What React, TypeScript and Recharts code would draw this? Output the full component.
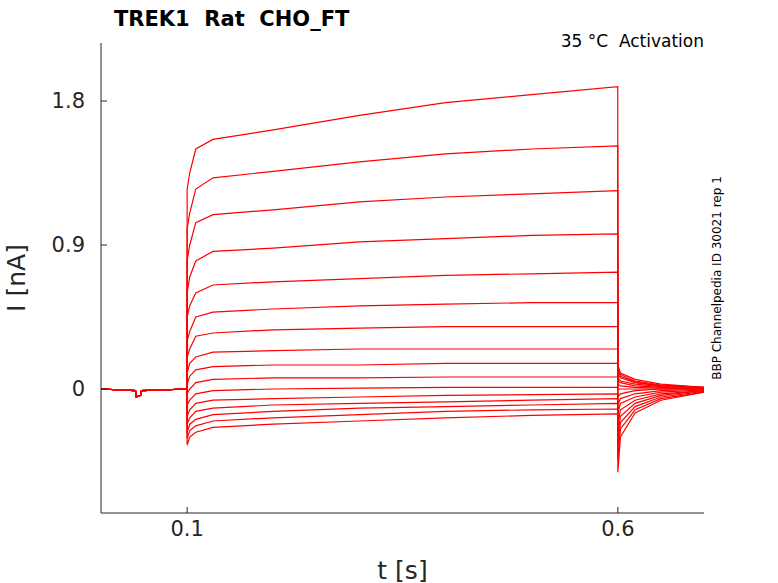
import { LineChart, Line, XAxis, YAxis, Label } from 'recharts';

// baseline before the step, then the step (0.1-0.6 s), then the tails
const baseTimes = [0, 0.04, 0.041, 0.046, 0.047, 0.0999];
const baseValues = [0, -0.01, -0.05, -0.04, -0.01, 0];
const stepTimes = [0.1, 0.103, 0.11, 0.13, 0.2, 0.3, 0.4, 0.5, 0.5999];
const tailTimes = [0.6, 0.603, 0.62, 0.65, 0.7];

const steps: number[][] = [
  [1.25, 1.35, 1.5, 1.56, 1.62, 1.71, 1.79, 1.84, 1.89],
  [1.0, 1.1, 1.25, 1.32, 1.36, 1.42, 1.47, 1.5, 1.52],
  [0.8, 0.9, 1.04, 1.09, 1.12, 1.17, 1.2, 1.22, 1.24],
  [0.6, 0.7, 0.8, 0.86, 0.88, 0.92, 0.94, 0.96, 0.97],
  [0.45, 0.52, 0.6, 0.65, 0.67, 0.69, 0.71, 0.72, 0.73],
  [0.3, 0.36, 0.45, 0.48, 0.5, 0.52, 0.53, 0.54, 0.54],
  [0.2, 0.25, 0.33, 0.35, 0.37, 0.38, 0.39, 0.39, 0.39],
  [0.1, 0.16, 0.2, 0.23, 0.24, 0.25, 0.25, 0.25, 0.25],
  [0.03, 0.08, 0.12, 0.14, 0.15, 0.15, 0.16, 0.16, 0.16],
  [-0.03, 0.0, 0.04, 0.06, 0.07, 0.07, 0.075, 0.075, 0.075],
  [-0.1, -0.07, -0.03, -0.01, 0, 0.005, 0.01, 0.01, 0.01],
  [-0.17, -0.13, -0.09, -0.07, -0.06, -0.05, -0.04, -0.035, -0.03],
  [-0.22, -0.18, -0.14, -0.12, -0.1, -0.09, -0.08, -0.07, -0.06],
  [-0.27, -0.22, -0.19, -0.16, -0.14, -0.12, -0.11, -0.1, -0.09],
  [-0.31, -0.26, -0.23, -0.2, -0.18, -0.16, -0.14, -0.13, -0.125],
  [-0.35, -0.3, -0.27, -0.24, -0.22, -0.2, -0.18, -0.165, -0.155],
];

const tails: number[][] = [
  [0.15, 0.1, 0.06, 0.03, 0.01],
  [0.13, 0.09, 0.05, 0.025, 0.01],
  [0.11, 0.08, 0.045, 0.02, 0.01],
  [0.09, 0.07, 0.04, 0.02, 0.005],
  [0.07, 0.05, 0.03, 0.015, 0.005],
  [0.05, 0.04, 0.02, 0.01, 0],
  [0.03, 0.02, 0.01, 0.005, 0],
  [0.0, 0.0, 0.0, 0.0, 0],
  [-0.05, -0.03, -0.01, 0, 0],
  [-0.1, -0.06, -0.03, -0.01, 0],
  [-0.15, -0.09, -0.05, -0.02, -0.005],
  [-0.22, -0.13, -0.07, -0.03, -0.01],
  [-0.29, -0.17, -0.09, -0.04, -0.01],
  [-0.36, -0.21, -0.11, -0.05, -0.015],
  [-0.44, -0.25, -0.13, -0.06, -0.02],
  [-0.52, -0.3, -0.15, -0.07, -0.02],
];

const data: Record<string, number>[] = [];
baseTimes.forEach((t, i) => {
  const row: Record<string, number> = { t };
  steps.forEach((_, k) => (row['s' + k] = baseValues[i]));
  data.push(row);
});
stepTimes.forEach((t, i) => {
  const row: Record<string, number> = { t };
  steps.forEach((s, k) => (row['s' + k] = s[i]));
  data.push(row);
});
tailTimes.forEach((t, i) => {
  const row: Record<string, number> = { t };
  tails.forEach((s, k) => (row['s' + k] = s[i]));
  data.push(row);
});

const font = 'DejaVu Sans, sans-serif';

export default function App() {
  return (
    <div style={{ position: 'absolute', left: 0, top: 0, width: 778, height: 583, fontFamily: font }}>
      <LineChart width={778} height={583} data={data} margin={{ top: 43, right: 74, bottom: 0, left: 0 }}>
        <XAxis
          dataKey="t"
          type="number"
          domain={[0.0018, 0.698]}
          ticks={[0.1, 0.6]}
          height={70}
          tick={{ fill: '#262626', fontSize: 21, fontFamily: font }}
          tickLine={{ stroke: '#262626' }}
          tickSize={-6}
          tickMargin={14}
          stroke="#262626"
        >
          <Label value="t [s]" position="insideBottom" offset={4} style={{ fill: '#262626', fontSize: 25, fontFamily: font }} />
        </XAxis>
        <YAxis
          type="number"
          domain={[-0.775, 2.1625]}
          ticks={[0, 0.9, 1.8]}
          width={101}
          tick={{ fill: '#262626', fontSize: 21, fontFamily: font }}
          tickLine={{ stroke: '#262626' }}
          tickSize={-6}
          tickMargin={22}
          stroke="#262626"
          allowDataOverflow
        >
          <Label value="I [nA]" angle={-90} position="insideLeft" offset={16} style={{ fill: '#262626', fontSize: 25, fontFamily: font, textAnchor: 'middle' }} />
        </YAxis>
        {steps.map((_, k) => (
          <Line key={k} dataKey={'s' + k} type="linear" stroke="#ff0000" strokeWidth={1.2} dot={false} isAnimationActive={false} />
        ))}
        <text x={114} y={26} fontSize={21} fontWeight="bold" fill="#000" fontFamily={font} style={{ whiteSpace: 'pre' }}>TREK1  Rat  CHO_FT</text>
        <text x={704} y={47} fontSize={17} textAnchor="end" fill="#000" fontFamily={font} style={{ whiteSpace: 'pre' }}>35 °C  Activation</text>
        <text x={721} y={278} fontSize={12} textAnchor="middle" fill="#000" fontFamily={font} transform="rotate(-90 721 278)">
          BBP Channelpedia ID 30021 rep 1
        </text>
      </LineChart>
    </div>
  );
}
